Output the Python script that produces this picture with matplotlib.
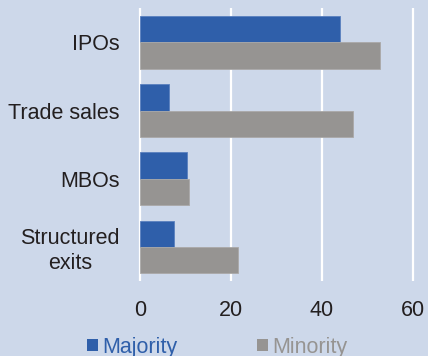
import matplotlib
matplotlib.use("Agg")
import matplotlib.pyplot as plt
import numpy as np
from matplotlib.patches import Patch

categories = ["IPOs", "Trade sales", "MBOs", "Structured\nexits"]
majority = [44.0, 6.3, 10.4, 7.5]
minority = [52.7, 46.9, 10.8, 21.5]
xticks = [0, 20, 40, 60]
series_names = ["Majority", "Minority"]

BG = "#cdd8ea"
BLUE = "#2f5faa"
GREY = "#969492"
TEXT = "#231f20"

plt.rcParams["font.family"] = ["Liberation Sans", "DejaVu Sans"]

fig = plt.figure(figsize=(4.28, 3.56), dpi=100, facecolor=BG)
ax = fig.add_axes([0.3229, 0.2107, 0.6458, 0.7660], facecolor=BG)

y = np.arange(len(categories))
h = 0.386
ax.barh(y - h / 2, majority, height=h, color=BLUE, edgecolor="#5a80bf",
        linewidth=0.6, zorder=3)
ax.barh(y + h / 2, minority, height=h, color=GREY, edgecolor="#aaa9a8",
        linewidth=0.6, zorder=3)

ax.set_xlim(-0.4, 60.4)
ax.set_ylim(3.5, -0.5)
ax.set_xticks(xticks)
ax.set_yticks(y)
ax.set_yticklabels(categories, multialignment="center")
ax.tick_params(length=0, labelsize=15.5, colors=TEXT)
ax.tick_params(axis="x", pad=13.5)
ax.tick_params(axis="y", pad=13.5)
ax.grid(axis="x", color="white", linewidth=1.6, zorder=1)
ax.set_axisbelow(True)
for s in ax.spines.values():
    s.set_visible(False)

handles = [Patch(facecolor=BLUE, edgecolor="none"),
           Patch(facecolor=GREY, edgecolor="none")]
fig.legend(handles, series_names, loc="upper left",
           bbox_to_anchor=(0.203, 0.054), ncol=2, frameon=False,
           fontsize=15.5, labelcolor=[BLUE, GREY], handlelength=0.52,
           handleheight=0.52, handletextpad=0.18, columnspacing=3.7,
           borderpad=0, borderaxespad=0)

fig.savefig("out.png", dpi=100, facecolor=BG)
